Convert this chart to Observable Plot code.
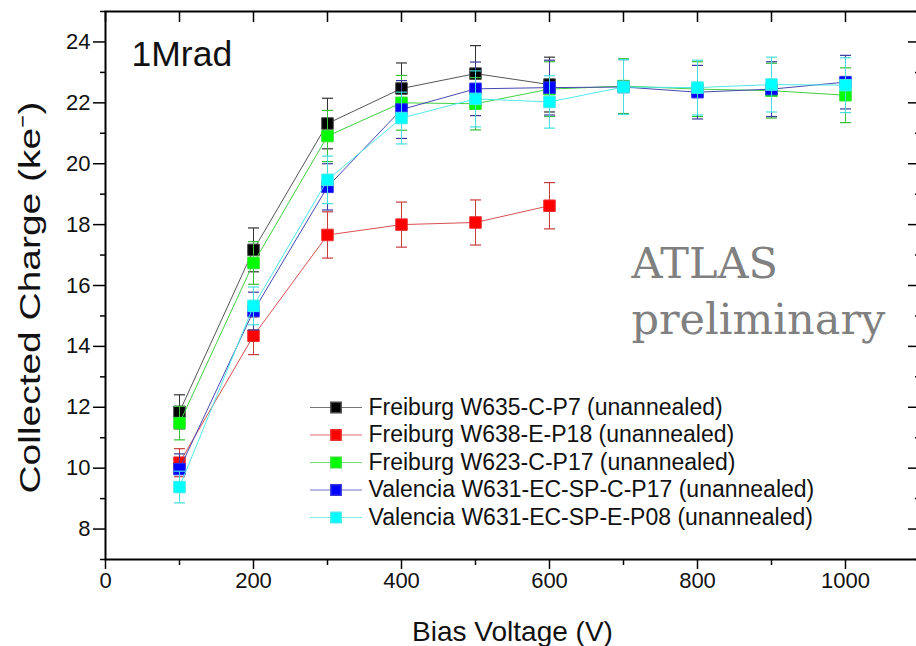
<!DOCTYPE html>
<html><head><meta charset="utf-8">
<script src="https://cdn.jsdelivr.net/npm/d3@7"></script>
<script src="https://cdn.jsdelivr.net/npm/@observablehq/plot@0.6"></script>
<style>html,body{margin:0;padding:0;background:#fff;overflow:hidden;width:916px;height:646px}
#chart svg{max-width:none !important;}</style>
</head><body><div id="chart"></div>
<script>
// ---- data ----
const voltages = [100, 200, 300, 400, 500, 600, 700, 800, 900, 1000];
const seriesNames = [
  "Freiburg W635-C-P7 (unannealed)",
  "Freiburg W638-E-P18 (unannealed)",
  "Freiburg W623-C-P17 (unannealed)",
  "Valencia W631-EC-SP-C-P17 (unannealed)",
  "Valencia W631-EC-SP-E-P08 (unannealed)"
];
const chargeW635 = [11.85, 17.17, 21.32, 22.47, 22.96, 22.6];
const errW635    = [0.56, 0.72, 0.83, 0.84, 0.92, 0.9];
const chargeW638 = [10.18, 14.35, 17.66, 18.0, 18.07, 18.62];
const errW638    = [0.46, 0.62, 0.76, 0.74, 0.74, 0.76];
const chargeW623 = [11.48, 16.74, 20.91, 22.0, 21.97, 22.45, 22.55, 22.45, 22.4, 22.25];
const errW623    = [0.55, 0.7, 0.84, 0.9, 0.86, 0.9, 0.9, 0.9, 0.9, 0.9];
const chargeW631C = [9.97, 15.16, 19.24, 21.78, 22.46, 22.5, 22.52, 22.35, 22.45, 22.68];
const errW631C    = [0.5, 0.62, 0.76, 0.95, 0.88, 0.9, 0.9, 0.88, 0.9, 0.88];
const chargeW631E = [9.38, 15.33, 19.47, 21.5, 22.13, 22.03, 22.52, 22.5, 22.6, 22.58];
const errW631E    = [0.52, 0.62, 0.78, 0.85, 0.92, 0.86, 0.9, 0.9, 0.9, 0.9];
const xMajorTicks = [0, 200, 400, 600, 800, 1000];
const xMinorTicks = [100, 300, 500, 700, 900];
const xTopTicks = [0, 100, 200, 300, 400, 500, 600, 700, 800, 900, 1000, 1100];
const yMajorTicks = [8, 10, 12, 14, 16, 18, 20, 22, 24];
const yMinorTicks = [7, 9, 11, 13, 15, 17, 19, 21, 23, 25];

// ---- styles ----
const markerFill = ["#000000", "#ff0000", "#00ff00", "#0000ff", "#00ffff"];
const markerStroke = ["#444444", "#e83030", "#30e030", "#3030e0", "#40eaea"];
const lineColor = ["#555555", "#d85050", "#40d040", "#4848b0", "#50e8e8"];
const errColor = ["#333333", "#c83c3c", "#38c038", "#3a3aa0", "#44dede"];
const legendLine = ["#777777", "#e07070", "#70e070", "#7070c0", "#80f0f0"];

const valueArrays = [chargeW635, chargeW638, chargeW623, chargeW631C, chargeW631E];
const errArrays = [errW635, errW638, errW623, errW631C, errW631E];

const capSymbol = {draw(ctx) { ctx.moveTo(-5.5, 0); ctx.lineTo(5.5, 0); }};
const swatchSymbol = {draw(ctx) { ctx.moveTo(-26, 0); ctx.lineTo(26, 0); }};

const marks = [];
valueArrays.forEach((vals, i) => {
  const rows = vals.map((c, j) => ({v: voltages[j], c, e: errArrays[i][j]}));
  marks.push(
    Plot.line(rows, {x: "v", y: "c", stroke: lineColor[i], strokeWidth: 1}),
    Plot.link(rows, {x1: "v", x2: "v", y1: d => d.c - d.e, y2: d => d.c + d.e, stroke: errColor[i], strokeWidth: 1}),
    Plot.dot(rows, {x: "v", y: d => d.c + d.e, symbol: capSymbol, r: 3, fill: "none", stroke: errColor[i], strokeWidth: 1.2}),
    Plot.dot(rows, {x: "v", y: d => d.c - d.e, symbol: capSymbol, r: 3, fill: "none", stroke: errColor[i], strokeWidth: 1.2}),
    Plot.dot(rows, {x: "v", y: "c", symbol: "square", r: 6.5, fill: markerFill[i], stroke: markerStroke[i], strokeWidth: 1})
  );
});

// legend
seriesNames.forEach((name, i) => {
  const dy = 396 + i * 27.5;
  marks.push(
    Plot.dot([name], {frameAnchor: "top-left", dx: 230.5, dy, symbol: swatchSymbol, r: 1, fill: "none", stroke: legendLine[i], strokeWidth: 1.2}),
    Plot.dot([name], {frameAnchor: "top-left", dx: 230.5, dy, symbol: "square", r: 5.8, fill: markerFill[i], stroke: markerStroke[i]}),
    Plot.text([name], {frameAnchor: "top-left", dx: 263, dy, text: d => d, textAnchor: "start", lineAnchor: "middle", fontSize: 23, fill: "#111"})
  );
});

marks.push(
  Plot.text(["1Mrad"], {frameAnchor: "top-left", dx: 26, dy: 29, text: d => d, fontSize: 35.5, fill: "#111"}),
  Plot.text(["ATLAS\npreliminary"], {frameAnchor: "top-left", dx: 526, dy: 322, text: d => d, textAnchor: "start", lineAnchor: "bottom", lineHeight: 1.3, fontSize: 43, fontFamily: "DejaVu Serif, Liberation Serif, serif", fill: "#808080"}),
  Plot.text(["Bias Voltage (V)"], {frameAnchor: "bottom", dy: 81, text: d => d, fontSize: 28, fill: "#111"}),
  Plot.text(["Collected Charge (ke\u207B)"], {frameAnchor: "left", rotate: -90, dx: -75, dy: 12, text: d => d, textAnchor: "middle", lineAnchor: "middle", fontSize: 29, fill: "#111", className: "ytitle"}),
  Plot.axisX(xMajorTicks, {anchor: "bottom", tickSize: 10, tickPadding: 3, fontSize: 22, strokeWidth: 1.5, tickFormat: d => String(d), label: null, fill: "#111"}),
  Plot.axisX(xMinorTicks, {anchor: "bottom", tickSize: 6, strokeWidth: 1.5, tickFormat: () => "", label: null}),
  Plot.axisX(xTopTicks, {anchor: "top", tickSize: -10, strokeWidth: 1.5, tickFormat: () => "", label: null}),
  Plot.axisY(yMajorTicks, {anchor: "left", tickSize: 12, tickPadding: 3, fontSize: 22, strokeWidth: 1.5, tickFormat: d => String(d), label: null, fill: "#111"}),
  Plot.axisY(yMinorTicks, {anchor: "left", tickSize: 5, strokeWidth: 1.5, tickFormat: () => "", label: null}),
  Plot.axisY(yMajorTicks, {anchor: "right", tickSize: -12, strokeWidth: 1.5, tickFormat: () => "", label: null}),
  Plot.axisY(yMinorTicks, {anchor: "right", tickSize: -5, strokeWidth: 1.5, tickFormat: () => "", label: null}),
  Plot.frame({stroke: "#000", strokeWidth: 2})
);

const chart = Plot.plot({
  width: 922, height: 646,
  marginLeft: 105, marginRight: 3, marginTop: 11, marginBottom: 87,
  x: {domain: [0, 1100]},
  y: {domain: [7, 25]},
  style: {fontFamily: "Liberation Sans, Arial, sans-serif", fontSize: "22px", background: "#fff", color: "#000", maxWidth: "none"},
  marks
});
chart.style.maxWidth = "none";
chart.style.width = "922px";
chart.style.height = "646px";
document.getElementById("chart").appendChild(chart);
// the reference's rotated axis title is drawn vertically stretched
chart.querySelectorAll("text").forEach(t => {
  if (t.textContent.startsWith("Collected")) {
    t.setAttribute("textLength", "392");
    t.setAttribute("lengthAdjust", "spacingAndGlyphs");
  }
});
</script>
</body></html>
